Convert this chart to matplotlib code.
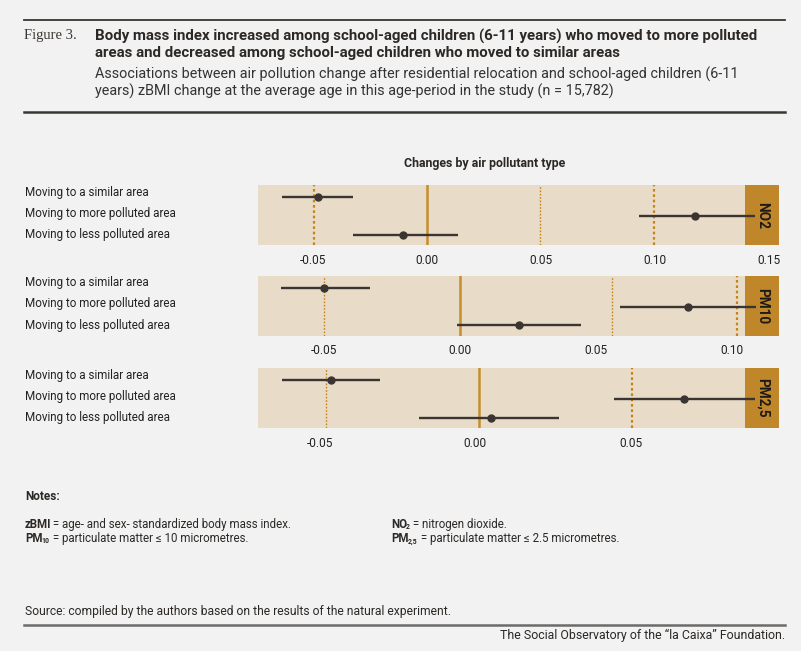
import matplotlib
matplotlib.use("Agg")
import matplotlib.pyplot as plt
from matplotlib.lines import Line2D
from matplotlib.patches import Rectangle
from matplotlib.transforms import blended_transform_factory, offset_copy

plt.rcParams['font.family'] = ['Roboto', 'DejaVu Sans']

# Data
pollutants = ['NO2', 'PM10', 'PM2,5']
groups = ['Moving to a similar area', 'Moving to more polluted area', 'Moving to less polluted area']

no2_est = [-0.0478, 0.1174, -0.0105]
no2_lo = [-0.0636, 0.0930, -0.0325]
no2_hi = [-0.0325, 0.1437, 0.0136]

pm10_est = [-0.0499, 0.0838, 0.0217]
pm10_lo = [-0.0658, 0.0586, -0.0010]
pm10_hi = [-0.0332, 0.1086, 0.0446]

pm25_est = [-0.0463, 0.0671, 0.0050]
pm25_lo = [-0.0621, 0.0447, -0.0180]
pm25_hi = [-0.0305, 0.0901, 0.0270]

zero_line = [0.0, 0.0, 0.0011]
dotted_no2 = [-0.0496, 0.0497, 0.0994]
dotted_pm10 = [-0.0499, 0.0560, 0.1018]
dotted_pm25 = [-0.0478, 0.0504]

ticks_no2 = [-0.05, 0.00, 0.05, 0.10, 0.15]
ticks_pm10 = [-0.05, 0.00, 0.05, 0.10]
ticks_pm25 = [-0.05, 0.00, 0.05]

# Colours
bg = '#f2f2f2'
panel_col = '#e8dcc8'
strip_col = '#c0862a'
ink = '#3a3531'
gold = '#c68d2e'
dot_col = '#c8841c'
text_col = '#2b2825'

W, H = 801, 651


def fx(x):
    return x / W


def fy(y):
    return 1 - y / H


fig = plt.figure(figsize=(W / 100, H / 100), dpi=100, facecolor=bg)
renderer = fig.canvas.get_renderer()

# Header
fig.add_artist(Line2D([fx(24), fx(785)], [fy(20), fy(20)], color='#3a3632', lw=1.3))
fig.text(fx(24), fy(36), 'Figure 3.', family='Liberation Serif', fontsize=10.5,
         color='#3a3632', va='center')
fig.text(fx(95), fy(36), 'Body mass index increased among school-aged children (6-11 years) who moved to more polluted',
         fontsize=10.8, fontweight='bold', color=text_col, va='center')
fig.text(fx(95), fy(53.5), 'areas and decreased among school-aged children who moved to similar areas',
         fontsize=10.8, fontweight='bold', color=text_col, va='center')
fig.text(fx(95), fy(74), 'Associations between air pollution change after residential relocation and school-aged children (6-11',
         fontsize=10.4, color='#333333', va='center')
fig.text(fx(95), fy(91), 'years) zBMI change at the average age in this age-period in the study (n = 15,782)',
         fontsize=10.4, color='#333333', va='center')
fig.add_artist(Line2D([fx(24), fx(785)], [fy(112), fy(112)], color='#3a3632', lw=1.8))

fig.text(fx(485), fy(164), 'Changes by air pollutant type', fontsize=8.9, fontweight='bold',
         color=text_col, ha='center', va='center')

# Panels: (top px, bottom px, xlim, estimates, lows, highs, dotted, dotted widths, ticks)
panels = [
    (185.3, 245.3, (-0.0741, 0.1544), no2_est, no2_lo, no2_hi, dotted_no2, [1.6, 1.0, 1.6], ticks_no2),
    (276.0, 335.7, (-0.0743, 0.1172), pm10_est, pm10_lo, pm10_hi, dotted_pm10, [1.0, 1.0, 1.6], ticks_pm10),
    (368.3, 428.3, (-0.0698, 0.0977), pm25_est, pm25_lo, pm25_hi, dotted_pm25, [1.0, 1.6], ticks_pm25),
]
strip_frac = (745.3 - 258) / 521
rows = [3, 2, 1]

for i, (top, bot, xlim, est, lo, hi, dots, dws, ticks) in enumerate(panels):
    ax = fig.add_axes([fx(258), fy(bot), 521 / W, (bot - top) / H])
    ax.set_facecolor(panel_col)
    ax.set_xlim(*xlim)
    ax.set_ylim(0.45, 3.62)
    for s in ax.spines.values():
        s.set_visible(False)
    ax.add_patch(Rectangle((strip_frac, 0), 1 - strip_frac, 1, transform=ax.transAxes,
                           facecolor=strip_col, edgecolor='none', zorder=1))
    ax.text((1 + strip_frac) / 2, 0.5, pollutants[i], transform=ax.transAxes, rotation=270,
            ha='center', va='center', fontsize=9.8, fontweight='bold', color='#1e1b18', zorder=2)

    ax.axvline(zero_line[i], color=gold, lw=1.8, zorder=2)
    for d, w in zip(dots, dws):
        ax.axvline(d, color=dot_col, lw=w, linestyle=(0, (1.2, 1.2)), zorder=2)

    ax.hlines(rows, lo, hi, color=ink, lw=1.7, zorder=3)
    ax.plot(est, rows, 'o', color=ink, markersize=5, zorder=4)

    ax.set_yticks([])
    ax.set_xticks(ticks)
    ax.set_xticklabels([f'{t:.2f}' for t in ticks])
    ax.tick_params(axis='x', length=0, pad=6, labelsize=8.6, labelcolor='#222222')

    label_tr = blended_transform_factory(fig.transFigure, ax.transAxes)
    for k, g in enumerate(groups):
        ax.text(fx(25), 1 - (7 + 21 * k) / (bot - top), g, transform=label_tr,
                fontsize=8.35, color='#222222', va='center', ha='left')


def note_line(x, y, bold, sub, rest, size=8.3):
    """Bold term, optional small subscript, then regular text, on one baseline."""
    t = fig.text(fx(x), fy(y), bold, fontsize=size, fontweight='bold', color=text_col, va='baseline')
    w = t.get_window_extent(renderer).width - 1.0
    if sub:
        tr = offset_copy(fig.transFigure, fig=fig, x=w * 0.72, y=-1.0, units='points')
        s = fig.text(fx(x), fy(y), sub, fontsize=size * 0.6, fontweight='bold', color=text_col,
                     va='baseline', transform=tr)
        w += s.get_window_extent(renderer).width + 0.5
    tr = offset_copy(fig.transFigure, fig=fig, x=w * 0.72, y=0, units='points')
    fig.text(fx(x), fy(y), rest, fontsize=size, color=text_col, va='baseline', transform=tr)


# Notes
fig.text(fx(25), fy(496), 'Notes:', fontsize=8.5, fontweight='bold', color=text_col, va='center')
note_line(25, 528, 'zBMI', '', ' = age- and sex- standardized body mass index.')
note_line(25, 542, 'PM', '10', ' = particulate matter ≤ 10 micrometres.')
note_line(391, 528, 'NO', '2', ' = nitrogen dioxide.')
note_line(391, 542, 'PM', '2,5', ' = particulate matter ≤ 2.5 micrometres.')

fig.text(fx(25), fy(612), 'Source: compiled by the authors based on the results of the natural experiment.',
         fontsize=8.7, color=text_col, va='center')
fig.add_artist(Line2D([fx(24), fx(785)], [fy(625), fy(625)], color='#6b6b6b', lw=1.8))
fig.text(fx(785), fy(635), 'The Social Observatory of the “la Caixa” Foundation.',
         fontsize=8.9, color=text_col, va='center', ha='right')

fig.savefig('out.png', dpi=100, facecolor=bg)
